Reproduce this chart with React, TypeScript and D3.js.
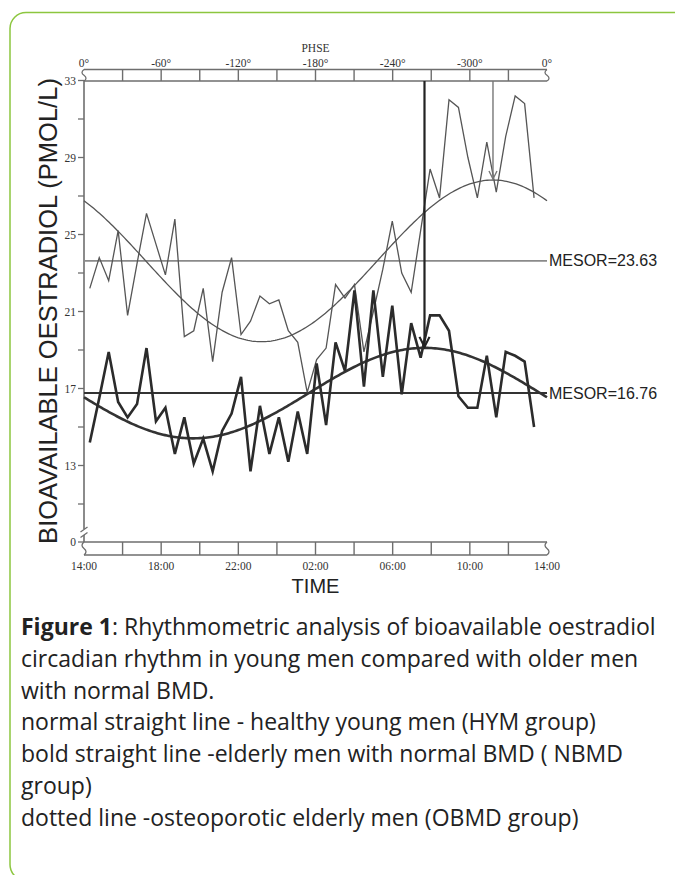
import React, { useRef, useEffect } from 'react';
import * as d3 from 'd3';

// bioavailable oestradiol (pmol/L), one sample about every half hour from 14:00
const hymValues = [
  22.2, 23.8, 22.6, 25.2, 20.8, 23.5, 26.1, 24.5, 22.9, 25.8, 19.7, 20.0,
  22.2, 18.4, 22.0, 23.8, 19.8, 20.5, 21.8, 21.4, 21.6, 20.0, 19.4, 16.8,
  18.5, 19.1, 22.4, 21.7, 22.4, 18.9, 21.0, 23.2, 25.7, 23.0, 22.0, 25.2,
  28.4, 26.9, 32.0, 31.6, 29.0, 26.9, 29.8, 27.2, 30.1, 32.2, 31.8, 26.9,
];
const nbmdValues = [
  14.2, 16.5, 18.9, 16.3, 15.5, 16.2, 19.1, 15.3, 16.0, 13.6, 15.5, 13.1,
  14.4, 12.7, 14.8, 15.7, 17.6, 12.7, 16.1, 13.6, 15.5, 13.2, 15.8, 13.6,
  18.3, 15.1, 19.4, 17.9, 22.1, 17.1, 22.1, 17.6, 21.3, 16.7, 20.4, 18.6,
  20.8, 20.8, 20.0, 16.6, 16.0, 16.0, 18.7, 15.5, 18.9, 18.7, 18.4, 15.0,
];
const sampleStart = 0.3; // hours after 14:00
const sampleStep = 0.49;

// cosinor fits: mesor, amplitude, acrophase (hours after 14:00)
const hymFit = { mesor: 23.63, amplitude: 4.2, acrophase: 21.2 };
const nbmdFit = { mesor: 16.76, amplitude: 2.35, acrophase: 17.65 };

const timeTicks = [0, 4, 8, 12, 16, 20, 24];
const timeLabels = ['14:00', '18:00', '22:00', '02:00', '06:00', '10:00', '14:00'];
const phaseLabels = ['0°', '-60°', '-120°', '-180°', '-240°', '-300°', '0°'];
const yMajorTicks = [13, 17, 21, 25, 29, 33];
const yMinorTicks = [11, 15, 19, 23, 27, 31];

const captionLines = [
  ': Rhythmometric analysis of bioavailable oestradiol',
  'circadian rhythm in young men compared with older men',
  'with normal BMD.',
  'normal straight line - healthy young men (HYM group)',
  'bold straight line -elderly men with normal BMD ( NBMD',
  'group)',
  'dotted line -osteoporotic elderly men (OBMD group)',
];

const App: React.FC = () => {
  const svgRef = useRef<SVGSVGElement>(null);
  const width = 675;
  const height = 875;

  useEffect(() => {
    if (!svgRef.current) return;
    const svg = d3.select(svgRef.current);
    svg.selectAll('*').remove();

    const x = d3.scaleLinear().domain([0, 24]).range([84, 547]);
    const y = d3.scaleLinear().domain([13, 33]).range([465.5, 80.5]);
    const zeroY = 542;
    const topBand = [69.5, 81];
    const bottomBand = [zeroY, 555];
    const axisColor = '#6e6e6e';
    const serif = '"Liberation Serif", "DejaVu Serif", serif';
    const sans = '"Liberation Sans", Arial, sans-serif';

    // green frame
    svg
      .append('rect')
      .attr('x', 10)
      .attr('y', 12.5)
      .attr('width', 720)
      .attr('height', 868)
      .attr('rx', 16)
      .attr('fill', 'none')
      .attr('stroke', '#8cc63f')
      .attr('stroke-width', 1.5);

    const g = svg.append('g');

    // banded time / phase axes
    const squiggle = (xx: number, a: number, b: number) => {
      const h = b - a;
      return `M${xx},${a} Q${xx - 4},${a + h / 4} ${xx},${a + h / 2} Q${xx + 4},${a + (3 * h) / 4} ${xx},${b}`;
    };
    [topBand, bottomBand].forEach(([a, b]) => {
      [a, b].forEach((yy) => {
        g.append('line')
          .attr('x1', x(0))
          .attr('x2', x(24))
          .attr('y1', yy)
          .attr('y2', yy)
          .attr('stroke', axisColor)
          .attr('stroke-width', 1.6);
      });
      g.selectAll(null)
        .data(d3.range(2, 24, 2))
        .enter()
        .append('line')
        .attr('x1', (d) => x(d))
        .attr('x2', (d) => x(d))
        .attr('y1', a)
        .attr('y2', b)
        .attr('stroke', axisColor)
        .attr('stroke-width', 1.4);
      [0, 24].forEach((t) => {
        g.append('path')
          .attr('d', squiggle(x(t), a, b))
          .attr('fill', 'none')
          .attr('stroke', axisColor)
          .attr('stroke-width', 1.3);
      });
    });

    g.selectAll(null)
      .data(timeTicks)
      .enter()
      .append('text')
      .attr('x', (d) => x(d))
      .attr('y', 67)
      .attr('text-anchor', 'middle')
      .attr('font-family', serif)
      .attr('font-size', 11.5)
      .attr('fill', '#333')
      .text((d, i) => phaseLabels[i]);

    g.selectAll(null)
      .data(timeTicks)
      .enter()
      .append('text')
      .attr('x', (d) => x(d))
      .attr('y', 570)
      .attr('text-anchor', 'middle')
      .attr('font-family', serif)
      .attr('font-size', 11.5)
      .attr('fill', '#333')
      .text((d, i) => timeLabels[i]);

    g.append('text')
      .attr('x', x(12))
      .attr('y', 52)
      .attr('text-anchor', 'middle')
      .attr('font-family', serif)
      .attr('font-size', 11.5)
      .attr('fill', '#333')
      .text('PHSE');

    // y axis with a break near the bottom
    g.append('line')
      .attr('x1', x(0))
      .attr('x2', x(0))
      .attr('y1', topBand[1])
      .attr('y2', 529)
      .attr('stroke', axisColor)
      .attr('stroke-width', 1.6);
    g.append('line')
      .attr('x1', x(0))
      .attr('x2', x(0))
      .attr('y1', 535)
      .attr('y2', zeroY)
      .attr('stroke', axisColor)
      .attr('stroke-width', 1.6);
    [529.5, 535].forEach((yy) => {
      g.append('line')
        .attr('x1', x(0) - 3.5)
        .attr('x2', x(0) + 3.5)
        .attr('y1', yy + 2.5)
        .attr('y2', yy - 2.5)
        .attr('stroke', axisColor)
        .attr('stroke-width', 1.3);
    });

    g.selectAll(null)
      .data([...yMajorTicks, ...yMinorTicks])
      .enter()
      .append('line')
      .attr('x1', x(0) - 6)
      .attr('x2', x(0))
      .attr('y1', (d) => y(d))
      .attr('y2', (d) => y(d))
      .attr('stroke', axisColor)
      .attr('stroke-width', 1.3);
    g.append('line')
      .attr('x1', x(0) - 6)
      .attr('x2', x(0))
      .attr('y1', zeroY)
      .attr('y2', zeroY)
      .attr('stroke', axisColor)
      .attr('stroke-width', 1.3);

    g.selectAll(null)
      .data(yMajorTicks)
      .enter()
      .append('text')
      .attr('x', x(0) - 8)
      .attr('y', (d) => y(d) + 4)
      .attr('text-anchor', 'end')
      .attr('font-family', serif)
      .attr('font-size', 11.5)
      .attr('fill', '#333')
      .text((d) => d);
    g.append('text')
      .attr('x', x(0) - 8)
      .attr('y', zeroY + 4)
      .attr('text-anchor', 'end')
      .attr('font-family', serif)
      .attr('font-size', 11.5)
      .attr('fill', '#333')
      .text('0');

    g.append('text')
      .attr('transform', 'translate(56.5,311) rotate(-90)')
      .attr('text-anchor', 'middle')
      .attr('font-family', sans)
      .attr('font-size', 25.5)
      .attr('fill', '#222')
      .text('BIOAVAILABLE OESTRADIOL (PMOL/L)');

    g.append('text')
      .attr('x', x(12))
      .attr('y', 593)
      .attr('text-anchor', 'middle')
      .attr('font-family', sans)
      .attr('font-size', 20)
      .attr('fill', '#222')
      .text('TIME');

    // mesor lines
    const mesors = [
      { fit: hymFit, color: '#8a8a8a', w: 1.8 },
      { fit: nbmdFit, color: '#333', w: 2 },
    ];
    mesors.forEach(({ fit, color, w }) => {
      g.append('line')
        .attr('x1', x(0))
        .attr('x2', x(24))
        .attr('y1', y(fit.mesor))
        .attr('y2', y(fit.mesor))
        .attr('stroke', color)
        .attr('stroke-width', w);
      g.append('text')
        .attr('x', x(24) + 2)
        .attr('y', y(fit.mesor) + 5.5)
        .attr('font-family', sans)
        .attr('font-size', 16)
        .attr('fill', '#222')
        .text(`MESOR=${fit.mesor.toFixed(2)}`);
    });

    // cosinor curves
    const cosine = (fit: typeof hymFit) =>
      d3
        .range(0, 24.001, 0.1)
        .map((t) => [t, fit.mesor + fit.amplitude * Math.cos((2 * Math.PI * (t - fit.acrophase)) / 24)]);
    const line = d3
      .line<number[]>()
      .x((d) => x(d[0]))
      .y((d) => y(d[1]));

    g.append('path')
      .attr('d', line(cosine(hymFit)))
      .attr('fill', 'none')
      .attr('stroke', '#555')
      .attr('stroke-width', 1.3);
    g.append('path')
      .attr('d', line(cosine(nbmdFit)))
      .attr('fill', 'none')
      .attr('stroke', '#333')
      .attr('stroke-width', 2.6);

    // raw series
    const series = (vals: number[]) => vals.map((v, i) => [sampleStart + i * sampleStep, v]);
    g.append('path')
      .attr('d', line(series(hymValues)))
      .attr('fill', 'none')
      .attr('stroke', '#555')
      .attr('stroke-width', 1.3)
      .attr('stroke-linejoin', 'miter');
    g.append('path')
      .attr('d', line(series(nbmdValues)))
      .attr('fill', 'none')
      .attr('stroke', '#2b2b2b')
      .attr('stroke-width', 2.6)
      .attr('stroke-linejoin', 'miter');

    // acrophase arrows
    const arrows = [
      { fit: hymFit, color: '#777', w: 1.4, head: 4 },
      { fit: nbmdFit, color: '#222', w: 2.2, head: 5 },
    ];
    arrows.forEach(({ fit, color, w, head }) => {
      const ax = x(fit.acrophase);
      const tip = y(fit.mesor + fit.amplitude) - 1;
      g.append('line')
        .attr('x1', ax)
        .attr('x2', ax)
        .attr('y1', topBand[1])
        .attr('y2', tip)
        .attr('stroke', color)
        .attr('stroke-width', w);
      g.append('path')
        .attr('d', `M${ax - head},${tip - head * 2} L${ax},${tip} L${ax + head},${tip - head * 2}`)
        .attr('fill', 'none')
        .attr('stroke', color)
        .attr('stroke-width', w);
    });

    // caption
    const cap = svg
      .append('g')
      .attr('font-family', '"Open Sans", "Noto Sans", sans-serif')
      .attr('font-size', 23)
      .attr('fill', '#222');
    captionLines.forEach((txt, i) => {
      const t = cap.append('text').attr('x', 21).attr('y', 635 + i * 31.8);
      if (i === 0) {
        t.append('tspan').attr('font-weight', 'bold').text('Figure 1');
      }
      t.append('tspan').text(txt);
    });
  }, []);

  return (
    <svg
      ref={svgRef}
      width={width}
      height={height}
      style={{ position: 'absolute', left: 0, top: 0, background: '#fff' }}
    />
  );
};

export default App;
